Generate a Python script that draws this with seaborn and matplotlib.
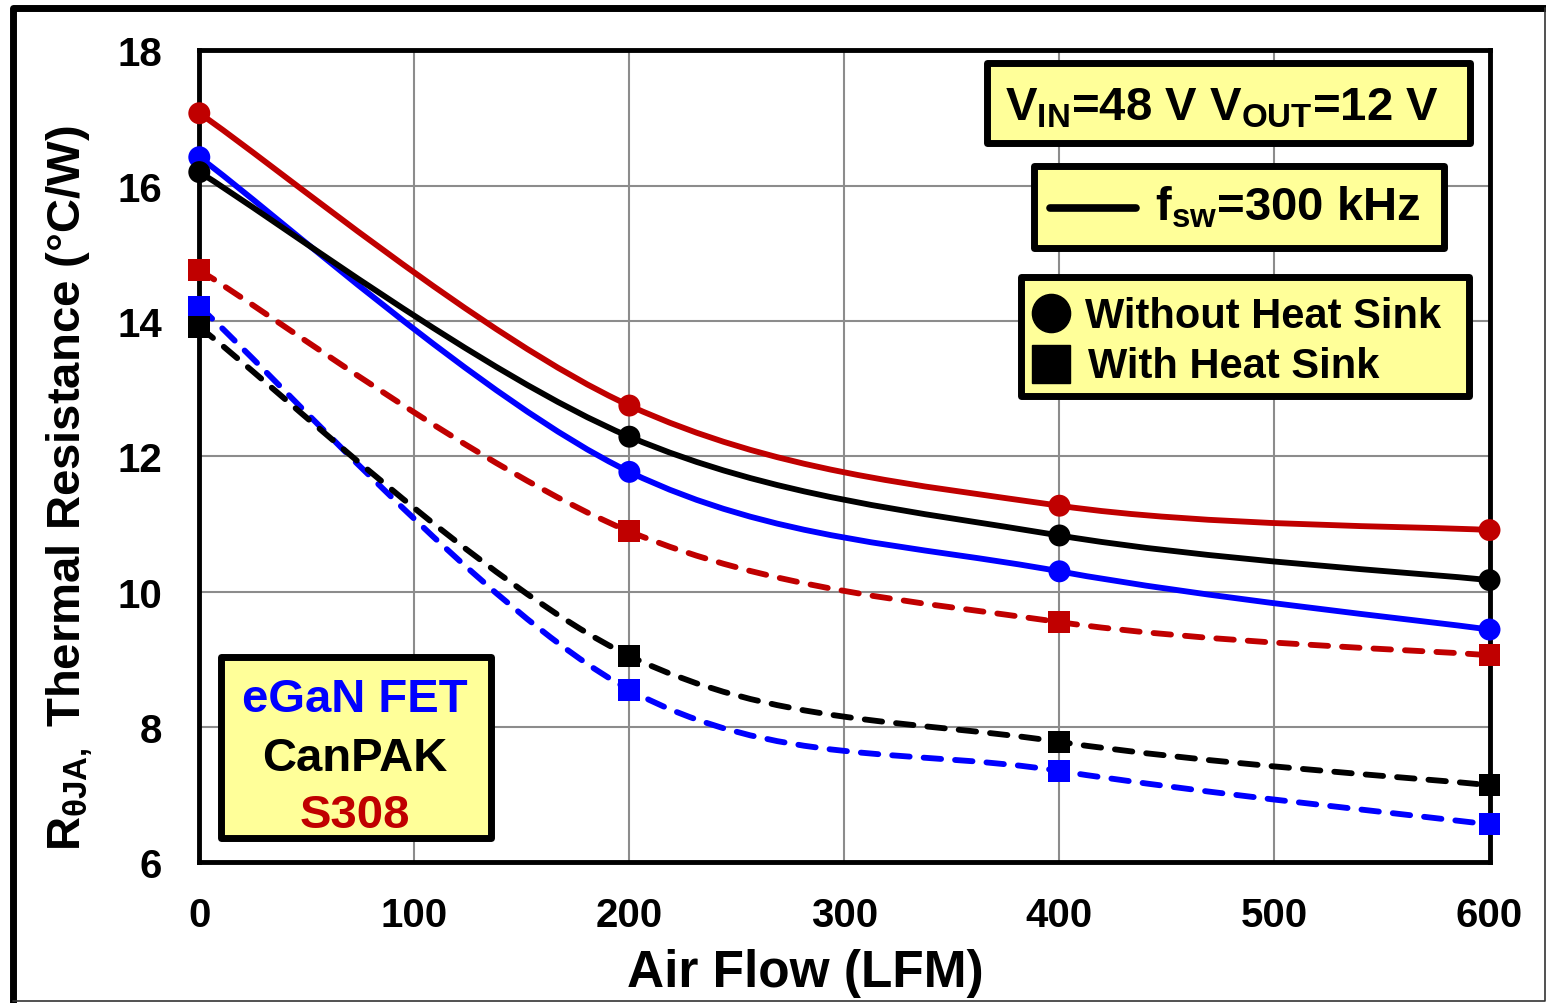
import numpy as np
import pandas as pd
import matplotlib
matplotlib.use("Agg")
import matplotlib.pyplot as plt
import seaborn as sns
from matplotlib.path import Path
from matplotlib.patches import PathPatch, Rectangle
from matplotlib.lines import Line2D
from matplotlib.transforms import Affine2D

# ---- data ----
airflow = [0, 200, 400, 600]
devices = ["eGaN FET", "CanPAK", "S308"]
egan_no_hs = [16.42, 11.77, 10.30, 9.44]
canpak_no_hs = [16.20, 12.29, 10.83, 10.17]
s308_no_hs = [17.07, 12.75, 11.27, 10.91]
egan_hs = [14.21, 8.55, 7.35, 6.56]
canpak_hs = [13.91, 9.05, 7.78, 7.14]
s308_hs = [14.75, 10.89, 9.55, 9.06]

colors = {"eGaN FET": "#0000FF", "CanPAK": "#000000", "S308": "#C00000"}

sns.set_theme(style="white")
plt.rcParams["font.family"] = ["Liberation Sans", "DejaVu Sans"]
plt.rcParams["font.weight"] = "bold"
for k in ("text.color", "axes.labelcolor", "xtick.color", "ytick.color"):
    plt.rcParams[k] = "black"
plt.rcParams["mathtext.fontset"] = "custom"
for k in ("rm", "it", "bf", "sf"):
    plt.rcParams["mathtext." + k] = "Liberation Sans:bold"
plt.rcParams["mathtext.default"] = "rm"
plt.rcParams["mathtext.fallback"] = "stixsans"

W, H = 1546, 1004
fig = plt.figure(figsize=(W / 100, H / 100), dpi=100)
fig.patch.set_facecolor("white")
# pixel coords (origin top-left) -> figure
T = Affine2D().scale(1 / W, -1 / H).translate(0, 1) + fig.transFigure

ax = fig.add_axes([199.3 / W, (H - 863.3) / H, 1290.2 / W, 812 / H])

rows = []
for dev, no_hs, hs in [("eGaN FET", egan_no_hs, egan_hs),
                       ("CanPAK", canpak_no_hs, canpak_hs),
                       ("S308", s308_no_hs, s308_hs)]:
    for x, v in zip(airflow, no_hs):
        rows.append((x, v, dev, "without"))
    for x, v in zip(airflow, hs):
        rows.append((x, v, dev, "with"))
df = pd.DataFrame(rows, columns=["airflow", "rth", "device", "sink"])


def smooth_path(xs, ys):
    # Excel-style smoothed line: Catmull-Rom turned into cubic Bezier pieces
    P = np.column_stack([xs, ys]).astype(float)
    ext = np.vstack([P[0], P, P[-1]])
    verts, codes = [P[0]], [Path.MOVETO]
    for i in range(len(P) - 1):
        p0, p1, p2, p3 = ext[i], ext[i + 1], ext[i + 2], ext[i + 3]
        verts += [p1 + (p2 - p0) / 6, p2 - (p3 - p1) / 6, p2]
        codes += [Path.CURVE4] * 3
    return Path(verts, codes)


for sink, ls in [("with", (0, (3.0, 2.4))), ("without", "-")]:
    for dev in devices:
        sub = df[(df.device == dev) & (df.sink == sink)]
        ax.add_patch(PathPatch(smooth_path(sub.airflow, sub.rth), fill=False,
                               ec=colors[dev], lw=4.2, ls=ls, capstyle="round",
                               joinstyle="round", zorder=3))

sns.scatterplot(data=df, x="airflow", y="rth", hue="device", style="sink",
                palette=colors, markers={"without": "o", "with": "s"},
                s=250, linewidth=0, legend=False, ax=ax, zorder=5, clip_on=False)

ax.set_xlim(0, 600)
ax.set_ylim(6, 18)
ax.set_xticks(range(0, 601, 100))
ax.set_yticks(range(6, 19, 2))
ax.grid(True, color="#8c8c8c", lw=1.5)
ax.set_axisbelow(True)
for s in ax.spines.values():
    s.set_color("black")
    s.set_linewidth(3.5)
ax.tick_params(length=0, labelsize=29, labelcolor="black")
ax.tick_params(axis="x", pad=24)
ax.tick_params(axis="y", pad=27)
for lab in ax.get_xticklabels() + ax.get_yticklabels():
    lab.set_fontweight("bold")
ax.set_xlabel("Air Flow (LFM)", fontsize=37, fontweight="bold", color="black")
ax.xaxis.set_label_coords(0.470, -0.105)
ax.set_ylabel(r"R$_{\theta JA,}$ Thermal Resistance (°C/W)", fontsize=34,
              fontweight="bold", color="black")
ax.yaxis.set_label_coords(-0.081, 0.462)

# ---- outer frame ----
fig.add_artist(Line2D([13, 13, W + 5], [H + 5, 9, 9], transform=T,
                      color="black", lw=5, solid_joinstyle="round"))
fig.add_artist(Line2D([13, W - 1, W - 1], [H - 2, H - 2, 9], transform=T,
                      color="#333333", lw=1.2))

# ---- annotation boxes ----
yellow = "#FFFF99"


def box(x0, y0, x1, y1):
    fig.add_artist(Rectangle((x0, y1), x1 - x0, y0 - y1, transform=T,
                             fc=yellow, ec="black", lw=5, joinstyle="round",
                             zorder=10))


box(986.5, 63.5, 1469.5, 143.5)
fig.text(1222, 120, r"V$_{IN}$=48 V V$_{OUT}$=12 V", transform=T, ha="center",
         va="baseline", fontsize=34, fontweight="bold", zorder=11)

box(1033.5, 166.5, 1443.5, 248.5)
fig.add_artist(Line2D([1050, 1136], [209, 209], transform=T, color="black",
                      lw=5.5, zorder=11))
fig.text(1155, 220, r"f$_{sw}$=300 kHz", transform=T, ha="left",
         va="baseline", fontsize=34, fontweight="bold", zorder=11)

box(1020.5, 277.5, 1468.5, 396.5)
fig.add_artist(Line2D([1051], [314], transform=T, marker="o", ms=27.5,
                      color="black", lw=0, zorder=11))
fig.add_artist(Line2D([1050.5], [365], transform=T, marker="s", ms=28,
                      color="black", lw=0, zorder=11))
fig.text(1085, 328, "Without Heat Sink", transform=T, ha="left",
         va="baseline", fontsize=30, fontweight="bold", zorder=11)
fig.text(1088, 378, "With Heat Sink", transform=T, ha="left",
         va="baseline", fontsize=30, fontweight="bold", zorder=11)

box(220.5, 657.5, 490.5, 838.5)
for dev, yb in zip(devices, [712, 771, 828]):
    fig.text(355, yb, dev, transform=T, ha="center", va="baseline",
             fontsize=34, fontweight="bold", color=colors[dev], zorder=11)

fig.savefig("out.png", dpi=100)
